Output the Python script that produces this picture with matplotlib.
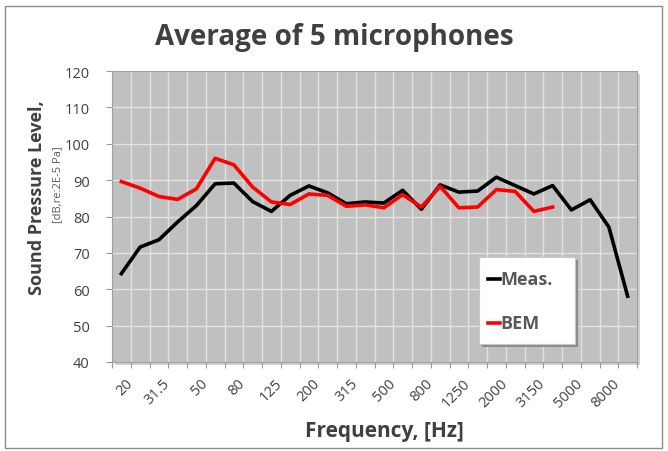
import matplotlib
matplotlib.use("Agg")
import matplotlib.pyplot as plt
from matplotlib.patches import Rectangle
import numpy as np

plt.rcParams['font.family'] = ['Open Sans', 'DejaVu Sans']

freqs = ["20", "25", "31.5", "40", "50", "63", "80", "100", "125", "160", "200", "250",
         "315", "400", "500", "630", "800", "1000", "1250", "1600", "2000", "2500",
         "3150", "4000", "5000", "6300", "8000", "10000"]
meas = [64.3, 71.6, 73.6, 78.5, 83.0, 89.0, 89.2, 84.1, 81.4, 85.8, 88.4, 86.5,
        83.5, 84.0, 83.7, 87.2, 82.0, 88.7, 86.7, 87.0, 90.8, 88.5, 86.2, 88.5,
        81.8, 84.6, 77.1, 58.1]
bem = [89.6, 87.8, 85.5, 84.7, 87.6, 96.0, 94.2, 88.1, 84.0, 83.3, 86.2, 85.8,
       82.8, 83.2, 82.4, 86.0, 82.6, 88.3, 82.4, 82.6, 87.4, 86.9, 81.4, 82.6]
yticks = [40, 50, 60, 70, 80, 90, 100, 110, 120]

fig = plt.figure(figsize=(6.68, 4.52), dpi=100)
fig.patch.set_facecolor('white')

# outer border
fig.patches.append(Rectangle((5/668, 3/452), 657/668, 442/452, transform=fig.transFigure,
                             fill=False, edgecolor='#8c8c8c', linewidth=1.0))

L, R, T, B = 112/668, 637/668, 72/452, 363/452
ax = fig.add_axes([L, 1-B, R-L, B-T])

# shadow of plot area
fig.patches.append(Rectangle((L+3/668, 1-B-3/452), R-L, B-T, transform=fig.transFigure,
                             facecolor='#d0d0d0', edgecolor='none', zorder=-1))

ax.set_facecolor('#c0c0c0')
n = len(freqs)
x = np.arange(n)
ax.set_xlim(-0.5, n-0.5)
ax.set_ylim(40, 120)

for xb in np.arange(0.5, n-0.5, 1.0):
    ax.axvline(xb, color='#e2e2e2', lw=1.0, zorder=1)
for yv in yticks[1:-1]:
    ax.axhline(yv, color='#e2e2e2', lw=1.0, zorder=1)

ax.plot(x, meas, color='black', lw=2.6, zorder=3, label='Meas.', solid_joinstyle='round')
ax.plot(x[:len(bem)], bem, color='#ff0000', lw=2.6, zorder=3, label='BEM', solid_joinstyle='round')

ax.set_yticks(yticks)
ax.set_yticklabels([str(v) for v in yticks], fontsize=10.5, color='#404040')
ax.set_xticks(np.arange(-0.5, n, 1.0), minor=False)
ax.set_xticklabels([])
ax.tick_params(axis='both', direction='out', length=4, color='#9a9a9a', width=0.8)
ax.tick_params(axis='y', pad=12)
for i in range(0, n, 2):
    ax.text(x[i]+0.2, 36.3, freqs[i], rotation=45, ha='right', va='top', fontsize=10.5,
            color='#404040', transform=ax.transData, rotation_mode='anchor', clip_on=False)

for s in ax.spines.values():
    s.set_color('#a0a0a0')
    s.set_linewidth(0.8)

fig.text(334/668, 1-38/452, "Average of 5 microphones", ha='center', va='center',
         fontsize=20, fontweight='bold', color='#404040')
fig.text(37/668, 1-198/452, "Sound Pressure Level,", rotation=90, ha='center', va='center',
         fontsize=13, fontweight='bold', color='#404040')
fig.text(58/668, 1-185/452, "[dB,re:2E-5 Pa]", rotation=90, ha='center', va='center',
         fontsize=8, color='#595959')
fig.text(384/668, 1-432/452, "Frequency, [Hz]", ha='center', va='center',
         fontsize=15, fontweight='bold', color='#404040')

# legend box
lx0, ly0, lx1, ly1 = 479, 258, 575, 345
fig.patches.append(Rectangle(((lx0+3)/668, 1-(ly1+3)/452), (lx1-lx0)/668, (ly1-ly0)/452,
                             transform=fig.transFigure, facecolor='#8a8a8a', edgecolor='none', zorder=4))
fig.patches.append(Rectangle((lx0/668, 1-ly1/452), (lx1-lx0)/668, (ly1-ly0)/452,
                             transform=fig.transFigure, facecolor='white', edgecolor='#c8c8c8',
                             lw=0.8, zorder=5))
for (yy, col, lab) in [(280, 'black', 'Meas.'), (324, '#ff0000', 'BEM')]:
    fig.lines.append(plt.Line2D([488/668, 500/668], [1-yy/452, 1-yy/452], color=col, lw=2.6,
                                transform=fig.transFigure, zorder=6))
    fig.text(500/668, 1-yy/452, lab, ha='left', va='center', fontsize=13, fontweight='bold',
             color='#595959', zorder=6)

fig.savefig("out.png", dpi=100)
